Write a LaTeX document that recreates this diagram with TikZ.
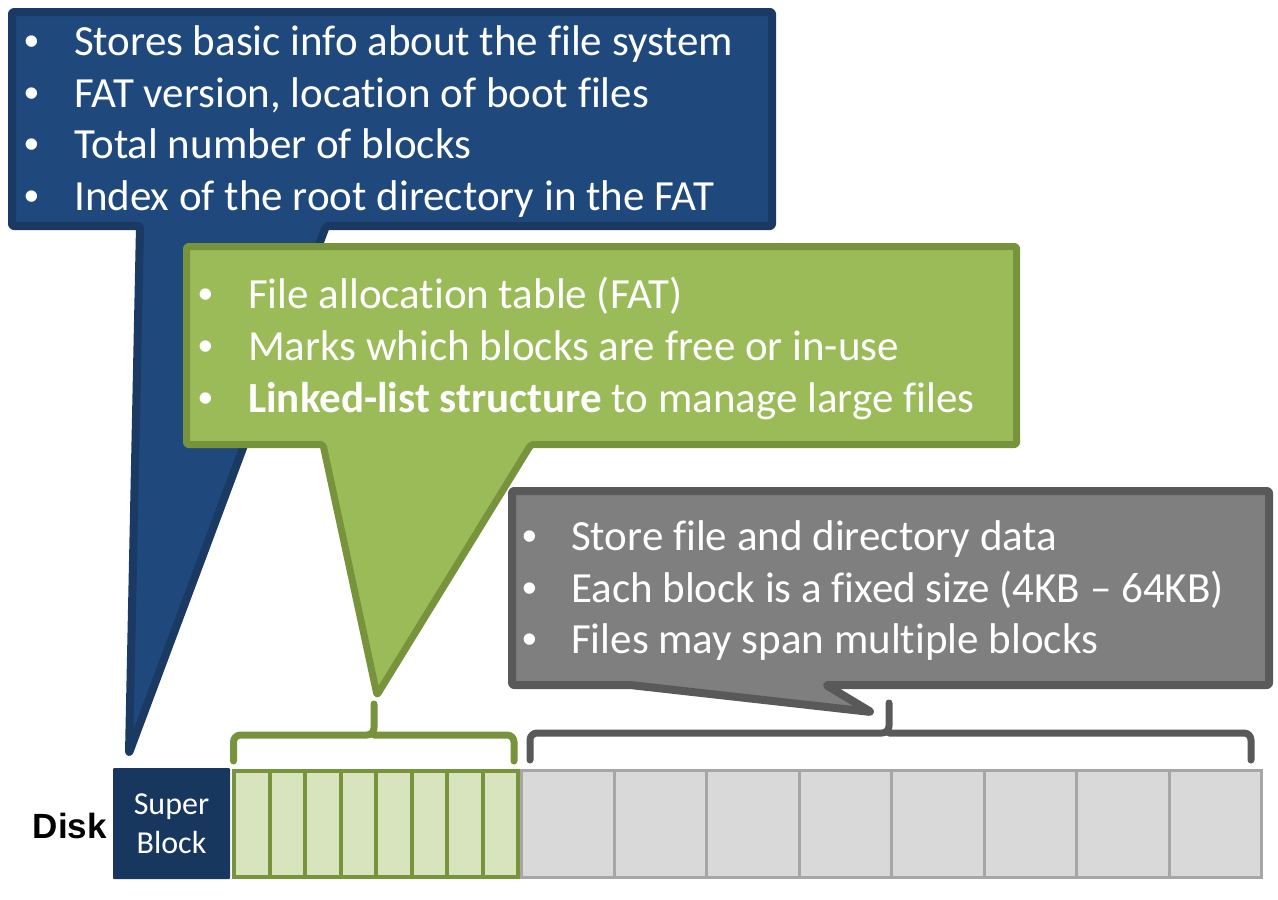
\documentclass[tikz,border=0pt]{standalone}
\usepackage{fontspec}
\setmainfont{Carlito}[Ligatures=NoCommon, RawFeature={-liga;-clig}]
\newfontfamily\arialf{Liberation Sans}
\definecolor{bluefill}{HTML}{1F497D}
\definecolor{blueline}{HTML}{1A3A64}
\definecolor{navy}{HTML}{17375E}
\definecolor{greenfill}{HTML}{9BBB59}
\definecolor{greenline}{HTML}{77933C}
\definecolor{greencell}{HTML}{D7E4BD}
\definecolor{grayfill}{HTML}{7F7F7F}
\definecolor{grayline}{HTML}{595959}
\definecolor{graycell}{HTML}{D9D9D9}
\definecolor{graycellline}{HTML}{A6A6A6}
\tikzset{
  bigtext/.style={anchor=base west, inner sep=0, text=white, font=\fontsize{43}{50}\selectfont},
  bul/.style={anchor=base, inner sep=0, text=white, font=\arialf\fontsize{42}{50}\selectfont},
  callout/.style={line width=8pt, line join=round, rounded corners=2pt},
  bracestyle/.style={line width=7pt, line cap=round, line join=round, rounded corners=7pt},
}
\begin{document}
\begin{tikzpicture}[x=1pt,y=-1pt]
\useasboundingbox (0,0) rectangle (1278,900);

% blue callout
\draw[callout, fill=bluefill, draw=blueline]
  (12,12) -- (772,12) -- (772,226) -- (326,226) -- (129,753) -- (140,226) -- (12,226) -- cycle;
\foreach \y/\t [count=\i] in {55/{Stores basic info about the file system},
  107/{FAT version, location of boot files},
  158/{Total number of blocks},
  210/{Index of the root directory in the FAT}} {
  \node[bul] (bb\i) at (32,\y) {•};
  \node[bigtext] (bt\i) at (74,\y) {\t};
}

% green callout
\draw[callout, line width=7pt, fill=greenfill, draw=greenline]
  (186.5,246.5) -- (1016.5,246.5) -- (1016.5,444.5) -- (531,444.5) -- (377,695) -- (323,444.5) -- (186.5,444.5) -- cycle;
\node[bul] (gb1) at (206,308) {•};
\node[bigtext] (gt1) at (248,308) {File allocation table (FAT)};
\node[bul] (gb2) at (206,360) {•};
\node[bigtext] (gt2) at (248,360) {Marks which blocks are free or in-use};
\node[bul] (gb3) at (206,412) {•};
\node[bigtext] (gt3) at (248,412) {\textbf{Linked-list structure} to manage large files};

% gray callout
\draw[callout, fill=grayfill, draw=grayline]
  (512,491) -- (1269,491) -- (1269,685) -- (826,685) -- (871,712) -- (630,685) -- (512,685) -- cycle;
\node[bul] (yb1) at (530,550) {•};
\node[bigtext] (yt1) at (571,550) {Store file and directory data};
\node[bul] (yb2) at (530,602) {•};
\node[bigtext] (yt2) at (571,602) {Each block is a fixed size (4KB – 64KB)};
\node[bul] (yb3) at (530,653) {•};
\node[bigtext] (yt3) at (571,653) {Files may span multiple blocks};

% braces
\draw[bracestyle, draw=greenline] (233.5,761) -- (233.5,735) -- (374,735) -- (374,704);
\draw[bracestyle, draw=greenline] (374,735) -- (514,735) -- (514,761);
\draw[bracestyle, draw=grayline] (530,760) -- (530,733) -- (889,733) -- (889,703);
\draw[bracestyle, draw=grayline] (889,733) -- (1251,733) -- (1251,760);

% disk
\node[anchor=base east, inner sep=0, font=\arialf\bfseries\fontsize{35}{42}\selectfont] (disk) at (107,838) {Disk};
\fill[navy, rounded corners=1pt] (113,768) rectangle (230,879);
\node[align=center, text=white, inner sep=0, font=\fontsize{32}{39}\selectfont] (sb) at (171.5,824) {Super\\Block};
\foreach \k in {0,...,7} {
  \draw[line width=4pt, draw=greenline, fill=greencell] ({234+\k*35.5},770.5) rectangle ({234+(\k+1)*35.5},877);
}
\foreach \k in {0,...,7} {
  \draw[line width=3pt, draw=graycellline, fill=graycell] ({521.5+\k*92.5},770) rectangle ({521.5+(\k+1)*92.5},877.5);
}
\end{tikzpicture}
\end{document}
